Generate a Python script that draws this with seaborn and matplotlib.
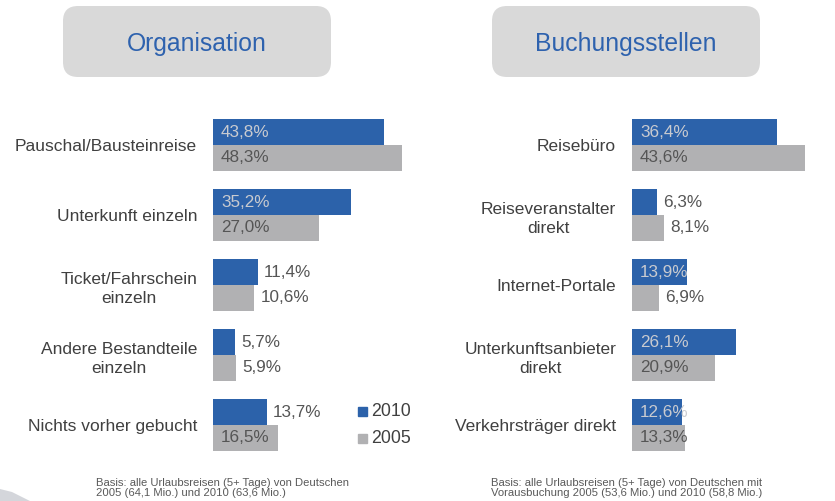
import pandas as pd
import seaborn as sns
import matplotlib.pyplot as plt
from matplotlib.patches import FancyBboxPatch, Polygon

# Data
org_categories = ["Pauschal/Bausteinreise", "Unterkunft einzeln", "Ticket/Fahrschein\neinzeln",
                  "Andere Bestandteile\neinzeln", "Nichts vorher gebucht"]
org_2010 = [43.8, 35.2, 11.4, 5.7, 13.7]
org_2005 = [48.3, 27.0, 10.6, 5.9, 16.5]

buch_categories = ["Reisebüro", "Reiseveranstalter\ndirekt", "Internet-Portale",
                   "Unterkunftsanbieter\ndirekt", "Verkehrsträger direkt"]
buch_2010 = [36.4, 6.3, 13.9, 26.1, 12.6]
buch_2005 = [43.6, 8.1, 6.9, 20.9, 13.3]

years = ["2010", "2005"]
titles = ["Organisation", "Buchungsstellen"]
notes = ["Basis: alle Urlaubsreisen (5+ Tage) von Deutschen\n2005 (64,1 Mio.) und 2010 (63,6 Mio.)",
         "Basis: alle Urlaubsreisen (5+ Tage) von Deutschen mit\nVorausbuchung 2005 (53,6 Mio.) und 2010 (58,8 Mio.)"]

BLUE = "#2c62aa"
GRAY = "#b1b1b3"
TXT = "#404040"

sns.set_style("white")
plt.rcParams['font.family'] = ['Liberation Sans', 'DejaVu Sans']

W, H = 835, 501
fig = plt.figure(figsize=(W / 100, H / 100), dpi=100)


def make_df(cats, v2010, v2005):
    return pd.DataFrame({
        "cat": cats * 2,
        "year": [years[0]] * len(cats) + [years[1]] * len(cats),
        "value": list(v2010) + list(v2005),
    })


def draw_panel(left_px, px_per_pct, xmax, cats, v2010, v2005, threshold, legend):
    width_px = px_per_pct * xmax
    ax = fig.add_axes([left_px / W, 1 - 460 / H, width_px / W, 350 / H])
    df = make_df(cats, v2010, v2005)
    sns.barplot(data=df, y="cat", x="value", hue="year", hue_order=years,
                palette=[BLUE, GRAY], orient="h", width=0.73, ax=ax,
                legend=False, saturation=1, edgecolor="none")
    ax.set_xlim(0, xmax)
    ax.set_ylim(4.5, -0.5)
    ax.set_xlabel("")
    ax.set_ylabel("")
    ax.set_xticks([])
    for s in ax.spines.values():
        s.set_visible(False)
    ax.tick_params(axis="y", length=0, pad=11.5, labelsize=12.5, labelcolor=TXT)
    for lab in ax.get_yticklabels():
        lab.set_multialignment("center")
        lab.set_linespacing(1.35)

    pad = 8 / px_per_pct
    for cont, vals, in_col in zip(ax.containers, [v2010, v2005], ["#c9cbd0", "#555555"]):
        for bar, v in zip(cont, vals):
            y = bar.get_y() + bar.get_height() / 2
            txt = f"{v:.1f}%".replace(".", ",")
            if v >= threshold:
                ax.text(pad, y, txt, va="center", ha="left", fontsize=12.3, color=in_col)
            else:
                ax.text(v + 6 / px_per_pct, y, txt, va="center", ha="left", fontsize=12.3, color="#555555")

    if legend:
        for i, (lab, col) in enumerate(zip(years, [BLUE, GRAY])):
            y = 411.5 + i * 27
            fig.patches.append(plt.Rectangle((358 / W, 1 - (y + 4.5) / H), 9 / W, 9 / H,
                                             transform=fig.transFigure, color=col))
            fig.text(371 / W, 1 - y / H, lab, va="center", ha="left", fontsize=12.8, color=TXT)
    return ax


draw_panel(213, 3.91, 60, org_categories, org_2010, org_2005, 14, True)
draw_panel(632, 3.97, 50, buch_categories, buch_2010, buch_2005, 12, False)

# title boxes
for x0, t in zip([63, 492], titles):
    box = FancyBboxPatch((x0 / W, 1 - 77 / H), 268 / W, 71 / H,
                         boxstyle="round,pad=0,rounding_size=0.018",
                         transform=fig.transFigure, facecolor="#d9d9d9", edgecolor="none",
                         mutation_aspect=W / H)
    fig.patches.append(box)
    fig.text((x0 + 134) / W, 1 - 44 / H, t, ha="center", va="center", fontsize=17.8, color="#2e62ae")

# footnotes
for x0, n in zip([96, 491], notes):
    fig.text(x0 / W, 1 - 488.5 / H, n, ha="left", va="center", fontsize=8.1,
             color="#595959", linespacing=1.0)

# decorative swoosh bottom-left
fig.patches.append(Polygon([(0, 1 - 489 / H), (12 / W, 1 - 492 / H), (30 / W, 0), (0, 0)],
                           closed=True, transform=fig.transFigure, facecolor="#b8bcc4",
                           edgecolor="none", alpha=0.6))

plt.savefig("out.png", dpi=100)
